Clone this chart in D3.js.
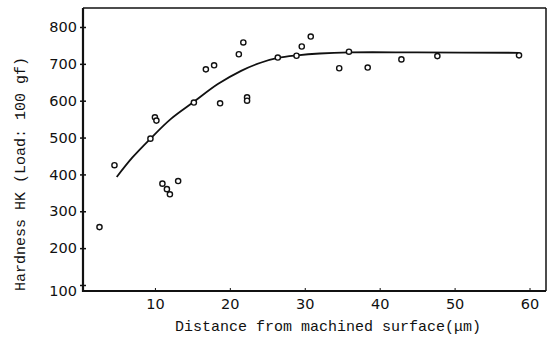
<!DOCTYPE html>
<html>
<head>
<meta charset="utf-8">
<script src="https://cdn.jsdelivr.net/npm/d3@7"></script>
<style>
body { margin: 0; background: #fff; }
svg { display: block; }
</style>
</head>
<body>
<div id="chart"></div>
<script>
// measured points, distance (um) vs hardness HK
var distance = [2.6, 4.6, 9.4, 10.0, 10.2, 11.0, 11.6, 12.0, 13.1, 15.2, 16.8, 17.9, 18.7, 21.2, 21.8, 22.3, 22.3,
                26.4, 28.9, 29.6, 30.8, 34.6, 35.9, 38.4, 42.9, 47.7, 58.6]
var hardness = [257, 425, 497, 555, 546, 375, 360, 346, 382, 595, 685, 696, 593, 726, 758, 609, 600,
                717, 722, 747, 774, 688, 733, 690, 712, 721, 723]

// fitted curve
var curveX = [4.9, 7, 9.4, 12.1, 15.2, 18.4, 21.5, 24.1, 26.4, 29, 32, 36, 45, 58.6]
var curveY = [393, 446, 497, 550, 597, 645, 681, 703, 716, 723, 728, 731, 731, 730]

var xTicks = [10, 20, 30, 40, 50, 60]
var yTicks = [100, 200, 300, 400, 500, 600, 700, 800]

var width = 554
var height = 338
var margin = { top: 8, right: 8, bottom: 47, left: 83 }

var svg = d3.select("#chart").append("svg").attr("width", width).attr("height", height)

var x = d3.scaleLinear().domain([0.4, 62.2]).range([margin.left, width - margin.right])
var y = d3.scaleLinear().domain([83.7, 851.5]).range([height - margin.bottom, margin.top])

var x0 = margin.left, x1 = width - margin.right
var y0 = height - margin.bottom, y1 = margin.top

// frame: top and right thinner
svg.append("line").attr("x1", x0).attr("x2", x1).attr("y1", y1).attr("y2", y1)
    .attr("stroke", "#111").attr("stroke-width", 1.5)
svg.append("line").attr("x1", x1).attr("x2", x1).attr("y1", y1).attr("y2", y0)
    .attr("stroke", "#111").attr("stroke-width", 1.5)

// y axis
var yAxis = svg.append("g").attr("transform", "translate(" + x0 + ",0)")
    .call(d3.axisLeft(y).tickValues(yTicks).tickSize(3).tickPadding(3))
yAxis.select(".domain").remove()
yAxis.selectAll(".tick line").attr("x2", 3).attr("x1", -3).attr("stroke", "#111").attr("stroke-width", 1.5)
yAxis.selectAll("text").style("font-family", "DejaVu Sans").style("font-size", "14.5px").attr("fill", "#111")
yAxis.selectAll(".tick").filter(function(d) { return d == 100 }).select("text").attr("dy", "0.7em")

// x axis
var xAxis = svg.append("g").attr("transform", "translate(0," + y0 + ")")
    .call(d3.axisBottom(x).tickValues(xTicks).tickSize(0).tickPadding(8))
xAxis.select(".domain").remove()
xAxis.selectAll(".tick line").attr("y2", -3).attr("stroke", "#111").attr("stroke-width", 1)
xAxis.selectAll("text").style("font-family", "DejaVu Sans").style("font-size", "14.5px").attr("fill", "#111")

svg.append("line").attr("x1", x0).attr("x2", x0).attr("y1", y1).attr("y2", y0 + 1)
    .attr("stroke", "#111").attr("stroke-width", 2.2)
svg.append("line").attr("x1", x0 - 1).attr("x2", x1).attr("y1", y0).attr("y2", y0)
    .attr("stroke", "#111").attr("stroke-width", 2.2)

// curve
var curveData = curveX.map(function(d, i) { return [d, curveY[i]] })
var line = d3.line().x(function(d) { return x(d[0]) }).y(function(d) { return y(d[1]) }).curve(d3.curveCatmullRom)
svg.append("path").datum(curveData).attr("d", line)
    .attr("fill", "none").attr("stroke", "#111").attr("stroke-width", 1.8)

// points
var pts = distance.map(function(d, i) { return { d: d, h: hardness[i] } })
svg.selectAll(".pt").data(pts).enter().append("circle").attr("class", "pt")
    .attr("cx", function(d) { return x(d.d) })
    .attr("cy", function(d) { return y(d.h) })
    .attr("r", 2.6)
    .attr("fill", "#fff").attr("stroke", "#111").attr("stroke-width", 1.4)

// labels
svg.append("text").attr("x", 328).attr("y", 331).attr("text-anchor", "middle")
    .style("font-family", "Liberation Mono").style("font-size", "15px").attr("fill", "#111")
    .text("Distance from machined surface(\u03bcm)")
svg.append("text").attr("transform", "translate(25,174) rotate(-90)").attr("text-anchor", "middle")
    .style("font-family", "Liberation Mono").style("font-size", "15px").attr("fill", "#111")
    .text("Hardness HK (Load: 100 gf)")
</script>
</body>
</html>
